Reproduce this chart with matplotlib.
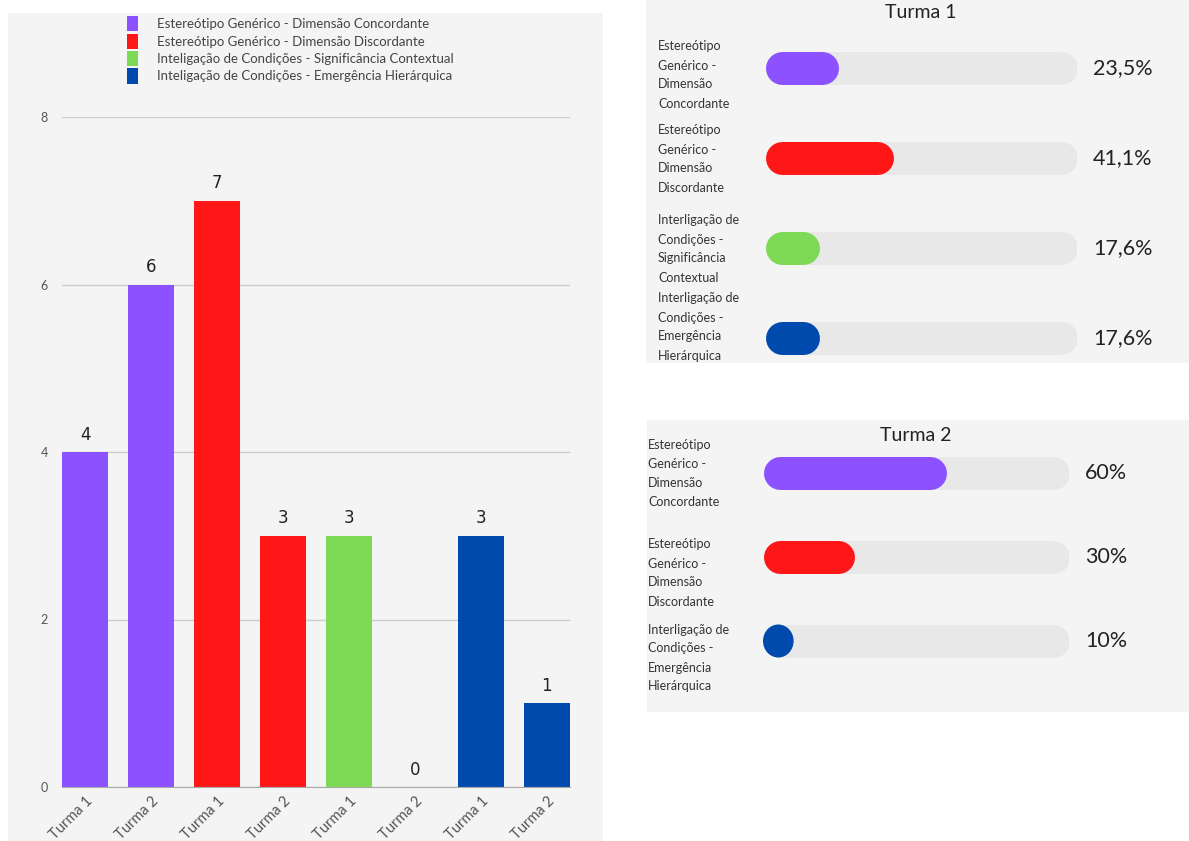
import matplotlib.pyplot as plt
from matplotlib.patches import Rectangle, Ellipse

plt.rcParams['font.family'] = ['Lato', 'DejaVu Sans']

# dados do gráfico de barras
rotulos_x = ['Turma 1', 'Turma 2', 'Turma 1', 'Turma 2', 'Turma 1', 'Turma 2', 'Turma 1', 'Turma 2']
valores = [4, 6, 7, 3, 3, 0, 3, 1]
cores_barras = ['#8c52ff', '#8c52ff', '#ff1717', '#ff1717', '#7ed957', '#7ed957', '#004aad', '#004aad']
legenda = ['Estereótipo Genérico - Dimensão Concordante',
           'Estereótipo Genérico - Dimensão Discordante',
           'Inteligação de Condições - Significância Contextual',
           'Inteligação de Condições - Emergência Hierárquica']
cores_legenda = ['#8c52ff', '#ff1717', '#7ed957', '#004aad']

# dados das barras de progresso
turma1_rotulos = ['Estereótipo\nGenérico -\nDimensão\nConcordante',
                  'Estereótipo\nGenérico -\nDimensão\nDiscordante',
                  'Interligação de\nCondições -\nSignificância\nContextual',
                  'Interligação de\nCondições -\nEmergência\nHierárquica']
turma1_pct = [23.5, 41.1, 17.6, 17.6]
turma1_textos = ['23,5%', '41,1%', '17,6%', '17,6%']
turma1_cores = ['#8c52ff', '#ff1717', '#7ed957', '#004aad']

turma2_rotulos = ['Estereótipo\nGenérico -\nDimensão\nConcordante',
                  'Estereótipo\nGenérico -\nDimensão\nDiscordante',
                  'Interligação de\nCondições -\nEmergência\nHierárquica']
turma2_pct = [60, 30, 10]
turma2_textos = ['60%', '30%', '10%']
turma2_cores = ['#8c52ff', '#ff1717', '#004aad']

W, H = 1189, 841
fig = plt.figure(figsize=(W / 100, H / 100), dpi=100)
fig.patch.set_facecolor('white')


def caixa(x0, y0, x1, y1):
    # coordenadas em pixels (y a partir do topo)
    return [x0 / W, 1 - y1 / H, (x1 - x0) / W, (y1 - y0) / H]


# fundos cinzas
for (x0, y0, x1, y1) in [(8, 13, 603, 841), (646, 0, 1189, 363), (647, 420, 1189, 712)]:
    b = caixa(x0, y0, x1, y1)
    fig.patches.append(Rectangle((b[0], b[1]), b[2], b[3], transform=fig.transFigure,
                                 facecolor='#f4f4f4', edgecolor='none', zorder=-5))

# ---- gráfico de barras ----
ax = fig.add_axes(caixa(62, 117, 570, 787))
ax.set_facecolor('none')
x = range(len(valores))
ax.bar(x, valores, width=0.7, color=cores_barras, zorder=3)
for xi, v in zip(x, valores):
    ax.text(xi, v + 0.1, str(v), ha='center', va='bottom', fontsize=12, color='#222222',
            family='DejaVu Sans')
ax.set_xlim(-0.35, len(valores) - 0.65)
ax.set_ylim(0, 8)
ax.set_yticks([0, 2, 4, 6, 8])
ax.yaxis.grid(True, color='#cccccc', linewidth=1, zorder=0)
ax.tick_params(axis='y', length=0, labelsize=9, labelcolor='#555555', pad=10)
ax.set_xticks(list(x))
ax.set_xticklabels(rotulos_x, rotation=45, ha='right', rotation_mode='anchor',
                   fontsize=10.5, color='#555555')
ax.tick_params(axis='x', length=0, pad=5)
for s in ['top', 'right', 'left']:
    ax.spines[s].set_visible(False)
ax.spines['bottom'].set_color('#aaaaaa')
ax.spines['bottom'].set_zorder(4)

# legenda
for i, (txt, c) in enumerate(zip(legenda, cores_legenda)):
    y = 24 + i * 17.5
    fig.patches.append(Rectangle((127 / W, 1 - (y + 7) / H), 11 / W, 15 / H,
                                 transform=fig.transFigure, facecolor=c, edgecolor='none'))
    fig.text(157 / W, 1 - y / H, txt, fontsize=9.5, color='#444444', va='center')


# ---- barras de progresso ----
def pilula(a, i, w, h_px, ux, uy, cor, z):
    r = h_px / 2 * ux
    if w >= 2 * r:
        a.plot([r, w - r], [i, i], color=cor, lw=h_px * 0.72, solid_capstyle='round', zorder=z)
    else:
        a.add_patch(Ellipse((w / 2, i), w, h_px * uy, facecolor=cor, edgecolor='none', zorder=z))


def progresso(box, rotulos, pct, textos, cores, titulo, titulo_y, x_rot, x_pct, desloc, altura):
    a = fig.add_axes(caixa(*box))
    a.set_facecolor('none')
    a.axis('off')
    n = len(pct)
    a.set_xlim(0, 100)
    a.set_ylim(n - 0.5, -0.5)
    larg_px = box[2] - box[0]
    alt_px = box[3] - box[1]
    ux = 100 / larg_px          # unidades x por pixel
    uy = n / alt_px             # unidades y por pixel
    for i, (p, c) in enumerate(zip(pct, cores)):
        pilula(a, i, 100, altura, ux, uy, '#e8e8e8', 2)
        pilula(a, i, p, altura, ux, uy, c, 3)
        yc = box[1] + (i + 0.5) * alt_px / n
        fig.text(x_rot / W, 1 - (yc + desloc[i]) / H, rotulos[i], fontsize=9, color='#333333',
                 va='center', linespacing=1.7)
        fig.text(x_pct / W, 1 - yc / H, textos[i], fontsize=15.5, color='#222222', va='center')
    fig.text((box[0] + box[2]) / 2 / W, 1 - titulo_y / H, titulo, fontsize=14,
             color='#222222', ha='center', va='center')


progresso((765, 23, 1077, 383), turma1_rotulos, turma1_pct, turma1_textos, turma1_cores,
          'Turma 1', 12, 658, 1093, (7, 1, 1, -11), 33)
progresso((763, 431, 1069, 683), turma2_rotulos, turma2_pct, turma2_textos, turma2_cores,
          'Turma 2', 436, 648, 1085, (1, 16, 17), 33)

fig.savefig('out.png', dpi=100, facecolor='white')
